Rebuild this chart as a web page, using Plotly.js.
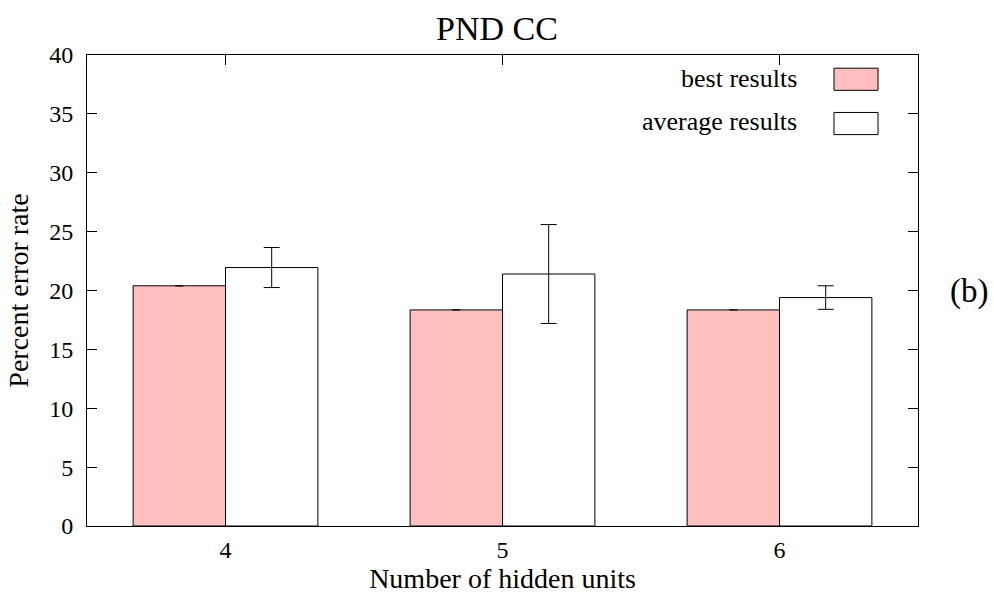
<!DOCTYPE html>
<html><head><meta charset="utf-8">
<script src="https://cdn.plot.ly/plotly-3.0.1.min.js"></script>
<style>body{margin:0;background:#fff}#c{width:994px;height:595px}</style>
</head><body><div id="c"></div>
<script>
const categories = [4, 5, 6];
const bestValues = [20.4, 18.35, 18.35];
const bestErrors = [0, 0, 0];
const avgValues = [21.95, 21.4, 19.4];
const avgErrors = [1.7, 4.2, 1.0];
const yTicks = [0, 5, 10, 15, 20, 25, 30, 35, 40];

const font = '"Liberation Serif", "Times New Roman", serif';
const traces = [
  {type:'bar', name:'best results', x:categories, y:bestValues,
   marker:{color:'#ffbfbf', line:{color:'#000', width:1}},
   error_y:{type:'data', array:bestErrors, visible:true, color:'#000', thickness:1.2, width:4}},
  {type:'bar', name:'average results', x:categories, y:avgValues,
   marker:{color:'#ffffff', line:{color:'#000', width:1}},
   error_y:{type:'data', array:avgErrors, visible:true, color:'#000', thickness:1, width:8}}
];
const layout = {
  width:994, height:595,
  margin:{l:87, r:76, t:55, b:69},
  paper_bgcolor:'#fff', plot_bgcolor:'#fff',
  font:{family:font, size:24, color:'#000'},
  showlegend:false,
  barmode:'group', bargap:0.333, bargroupgap:0,
  title:{text:'PND CC', font:{family:font, size:34}, x:0.5, xanchor:'center', y:0.953, yanchor:'middle'},
  xaxis:{range:[3.5,6.5], tickvals:categories, ticktext:categories.map(String),
    ticks:'inside', ticklen:10, tickcolor:'#000', mirror:'allticks', showline:true, linecolor:'#000', linewidth:1,
    showgrid:false, zeroline:false, tickfont:{family:font, size:24}, ticklabelstandoff:2,
    title:{text:'Number of hidden units', font:{family:font, size:28}, standoff:2}},
  yaxis:{range:[0,40], tickvals:yTicks, ticks:'inside', ticklen:10, tickcolor:'#000', mirror:'allticks',
    showline:true, linecolor:'#000', linewidth:1, showgrid:false, zeroline:false,
    tickfont:{family:font, size:24}, ticklabelstandoff:8,
    title:{text:'Percent error rate', font:{family:font, size:28}, standoff:12}},
  annotations:[
    {xref:'paper', yref:'paper', x:0.857, y:0.9495, xanchor:'right', yanchor:'middle', text:'best results', showarrow:false, font:{family:font, size:26}},
    {xref:'paper', yref:'paper', x:0.857, y:0.858, xanchor:'right', yanchor:'middle', text:'average results', showarrow:false, font:{family:font, size:26}},
    {xref:'paper', yref:'paper', x:1.036, y:0.497, xanchor:'left', yanchor:'middle', text:'(b)', showarrow:false, font:{family:font, size:33}}
  ],
  shapes:[
    {type:'rect', xref:'paper', yref:'paper', x0:0.8989, x1:0.9519, y0:0.925, y1:0.972, fillcolor:'#ffbfbf', line:{color:'#000', width:1}},
    {type:'rect', xref:'paper', yref:'paper', x0:0.8989, x1:0.9519, y0:0.831, y1:0.878, fillcolor:'#ffffff', line:{color:'#000', width:1}}
  ]
};
Plotly.newPlot('c', traces, layout, {staticPlot:true, displayModeBar:false});
</script></body></html>
